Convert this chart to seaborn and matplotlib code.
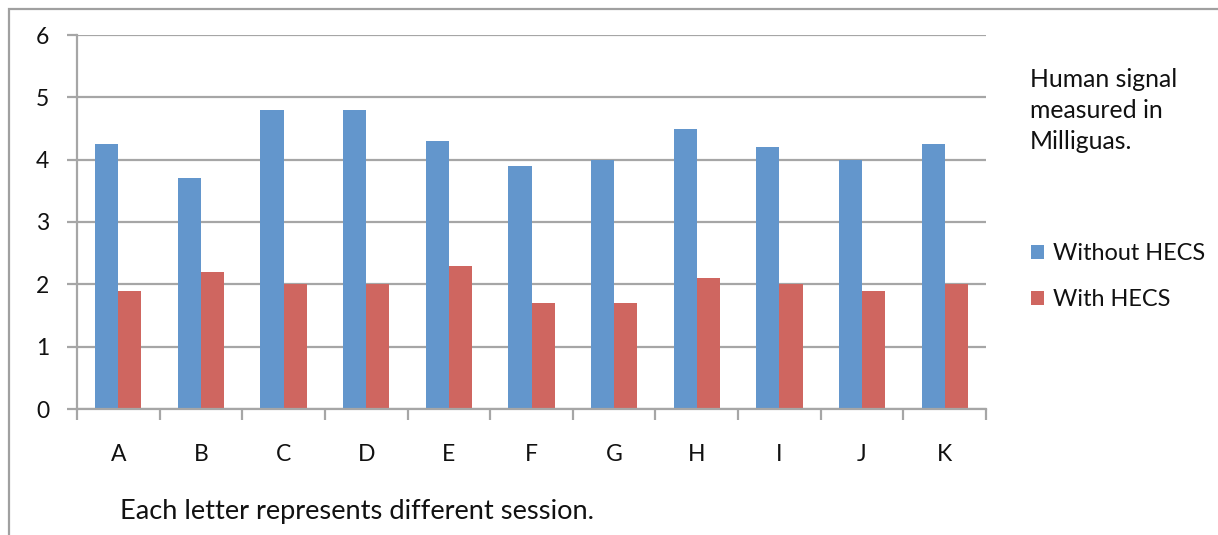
import matplotlib
matplotlib.use("Agg")
import matplotlib.pyplot as plt
import seaborn as sns
import pandas as pd
from matplotlib.patches import Rectangle, Patch

sessions = ["A", "B", "C", "D", "E", "F", "G", "H", "I", "J", "K"]
without_hecs = [4.25, 3.7, 4.8, 4.8, 4.3, 3.9, 4.0, 4.5, 4.2, 4.0, 4.25]
with_hecs = [1.9, 2.2, 2.0, 2.0, 2.3, 1.7, 1.7, 2.1, 2.0, 1.9, 2.0]
series_names = ["Without HECS", "With HECS"]
y_ticks = [0, 1, 2, 3, 4, 5, 6]
title_text = "Human signal\nmeasured in\nMilliguas."
x_note = "Each letter represents different session."

df = pd.DataFrame({
    "session": sessions * 2,
    "value": without_hecs + with_hecs,
    "series": [series_names[0]] * len(sessions) + [series_names[1]] * len(sessions),
})

sns.set_theme(style="white")
plt.rcParams["font.family"] = ["Lato", "DejaVu Sans"]

colors = {"Without HECS": "#6396CC", "With HECS": "#CF6660"}
grid_c = "#A6A6A6"

fig = plt.figure(figsize=(12.18, 5.35), dpi=100)
ax = fig.add_axes([77 / 1218, 1 - 409 / 535, (986 - 77) / 1218, (409 - 35) / 535])

sns.barplot(data=df, x="session", y="value", hue="series", palette=colors,
            width=0.56, saturation=1, ax=ax, legend=False, linewidth=0, errorbar=None)

ax.set_xlim(-0.5, len(sessions) - 0.5)
ax.set_ylim(0, 6)
ax.set_yticks(y_ticks)
ax.set_yticklabels([str(t) for t in y_ticks], fontsize=16.5, color="#111111")
ax.yaxis.grid(True, color=grid_c, linewidth=1.6)
ax.set_axisbelow(True)

# category boundary ticks (major, unlabeled) and centered labels (minor)
ax.set_xticks([i - 0.5 for i in range(len(sessions) + 1)])
ax.set_xticklabels([])
ax.set_xticks(range(len(sessions)), minor=True)
ax.set_xticklabels(sessions, minor=True, fontsize=16.5, color="#111111")
ax.tick_params(axis="x", which="major", direction="out", length=8, width=1.6, color=grid_c, bottom=True)
ax.tick_params(axis="x", which="minor", length=0, pad=25)
ax.tick_params(axis="y", direction="out", length=7, width=1.6, color=grid_c, left=True, pad=13)

for s in ["top", "right"]:
    ax.spines[s].set_visible(False)
for s in ["left", "bottom"]:
    ax.spines[s].set_color(grid_c)
    ax.spines[s].set_linewidth(1.6)

ax.set_xlabel("")
ax.set_ylabel("")

fig.text(1030 / 1218, 1 - 68 / 535, title_text, fontsize=17.8, va="top", ha="left",
         color="#111111", linespacing=1.42)

handles = [Patch(facecolor=colors[n], edgecolor="none") for n in series_names]
fig.legend(handles, series_names, loc="upper left", bbox_to_anchor=(1022 / 1218, 1 - 234 / 535),
           frameon=False, fontsize=16.9, handlelength=0.55, handleheight=0.55,
           handletextpad=0.35, labelspacing=1.05, borderaxespad=0, labelcolor="#111111")

fig.text(120 / 1218, 1 - 512 / 535, x_note, fontsize=19.6, va="center", ha="left", color="#111111")

fig.patches.append(Rectangle((9 / 1218, -0.1), 1.2, 1 - 9 / 535 + 0.1, transform=fig.transFigure,
                             fill=False, edgecolor="#A0A0A0", linewidth=1.6, clip_on=False))

fig.savefig("out.png", dpi=100)
